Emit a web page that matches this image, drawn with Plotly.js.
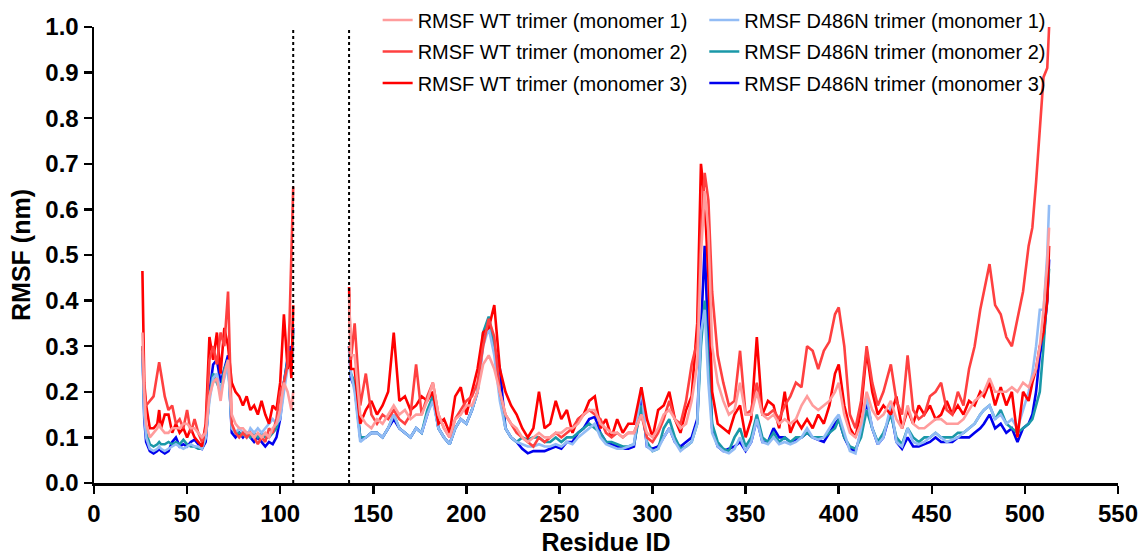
<!DOCTYPE html>
<html>
<head>
<meta charset="utf-8">
<script src="https://cdn.plot.ly/plotly-3.0.1.min.js"></script>
<style>html,body{margin:0;padding:0;background:#fff;}#chart{width:1143px;height:556px;}</style>
</head>
<body>
<div id="chart"></div>
<script>
// Residue positions, segment A (26-107) and segment B (137-513)
const resA = [26,27,28,30,32,34,35,36,38,40, 42,44,46,48,50,52,54,56,58,60,
  62,64,66,68,70,72,74,76,78,80, 82,84,86,88,90,92,94,96,98,100, 102,104,105,106,107];
const resB = [137,138,140,143,146,149,152,155,158,161,
  164,167,170,173,176,179,182,185,188,191,
  194,197,200,203,206,209,212,215,218,221,
  224,227,230,233,236,239,242,245,248,251,
  254,257,260,263,266,269,272,275,278,281,
  284,287,290,294,297,300,303,306,309,312,
  315,318,321,324,326,328,330,332,335,338,
  341,344,347,350,353,356,359,362,365,368,
  371,374,377,380,383,386,389,392,395,398,
  400,403,406,409,412,415,418,421,424,428,
  431,434,437,440,443,446,449,452,455,458,
  461,464,467,470,473,476,478,481,484,487,
  490,493,496,499,502,504,506,508,510,512,
  513];

// RMSF (nm) values
const wt1A = [0.33,0.20,0.13,0.10,0.11,0.12,0.13,0.12,0.11,0.11, 0.12,0.12,0.12,0.13,0.13,0.12,0.12,0.11,0.10,0.11,
  0.19,0.22,0.23,0.18,0.24,0.27,0.15,0.13,0.12,0.12, 0.11,0.11,0.10,0.11,0.10,0.11,0.10,0.12,0.13,0.16, 0.22,0.20,0.18,0.16,0.20];
const wt2A = [0.30,0.20,0.17,0.18,0.19,0.24,0.265,0.24,0.19,0.16, 0.17,0.13,0.14,0.12,0.16,0.11,0.14,0.11,0.09,0.12,
  0.27,0.30,0.26,0.33,0.30,0.42,0.13,0.11,0.10,0.11, 0.10,0.11,0.10,0.085,0.10,0.09,0.12,0.11,0.14,0.20, 0.22,0.26,0.35,0.50,0.65];
const wt3A = [0.465,0.22,0.17,0.12,0.12,0.13,0.16,0.12,0.15,0.15, 0.11,0.13,0.11,0.12,0.10,0.12,0.10,0.09,0.08,0.13,
  0.32,0.27,0.33,0.24,0.34,0.30,0.22,0.20,0.19,0.17, 0.19,0.16,0.17,0.15,0.18,0.15,0.13,0.17,0.16,0.22, 0.37,0.25,0.29,0.23,0.39];
const mu1A = [0.29,0.15,0.10,0.075,0.07,0.075,0.08,0.075,0.07,0.075, 0.08,0.085,0.08,0.075,0.08,0.085,0.08,0.08,0.075,0.10,
  0.18,0.23,0.24,0.20,0.23,0.26,0.12,0.11,0.12,0.11, 0.10,0.12,0.11,0.12,0.11,0.12,0.13,0.14,0.13,0.14, 0.20,0.25,0.28,0.25,0.30];
const mu2A = [0.30,0.16,0.11,0.085,0.08,0.085,0.09,0.085,0.085,0.09, 0.085,0.09,0.085,0.095,0.085,0.08,0.08,0.075,0.075,0.10,
  0.19,0.24,0.22,0.20,0.25,0.27,0.12,0.11,0.11,0.105, 0.11,0.10,0.11,0.10,0.11,0.10,0.10,0.11,0.12,0.15, 0.22,0.27,0.29,0.26,0.33];
const mu3A = [0.30,0.14,0.09,0.07,0.065,0.07,0.075,0.07,0.065,0.07, 0.09,0.10,0.08,0.085,0.08,0.09,0.095,0.085,0.075,0.09,
  0.20,0.26,0.27,0.22,0.25,0.28,0.11,0.10,0.11,0.10, 0.11,0.10,0.09,0.10,0.09,0.08,0.09,0.085,0.10,0.14, 0.22,0.28,0.30,0.27,0.34];

const wt1B = [0.41,0.28,0.28,0.15,0.13,0.12,0.14,0.13,0.15,0.17,
  0.15,0.16,0.14,0.15,0.15,0.18,0.22,0.15,0.12,0.10,
  0.14,0.15,0.17,0.17,0.20,0.26,0.28,0.25,0.20,0.15,
  0.13,0.12,0.10,0.09,0.10,0.11,0.10,0.10,0.11,0.11,
  0.12,0.12,0.13,0.15,0.16,0.16,0.13,0.12,0.11,0.11,
  0.10,0.11,0.11,0.15,0.11,0.10,0.12,0.15,0.16,0.14,
  0.12,0.13,0.18,0.26,0.50,0.64,0.55,0.30,0.22,0.18,
  0.15,0.16,0.22,0.15,0.15,0.20,0.15,0.14,0.15,0.13,
  0.14,0.13,0.14,0.17,0.19,0.17,0.16,0.17,0.18,0.20,
  0.22,0.15,0.11,0.10,0.13,0.20,0.16,0.14,0.15,0.18,
  0.14,0.12,0.17,0.13,0.12,0.12,0.13,0.14,0.14,0.13,
  0.13,0.13,0.14,0.16,0.18,0.19,0.20,0.23,0.20,0.20,
  0.20,0.21,0.20,0.22,0.21,0.23,0.25,0.30,0.38,0.48,
  0.56];
const wt2B = [0.30,0.27,0.35,0.17,0.24,0.15,0.13,0.15,0.14,0.16,
  0.14,0.13,0.15,0.26,0.15,0.19,0.22,0.15,0.12,0.10,
  0.14,0.16,0.18,0.19,0.22,0.30,0.36,0.32,0.20,0.15,
  0.13,0.11,0.10,0.09,0.08,0.10,0.09,0.10,0.11,0.10,
  0.11,0.12,0.14,0.15,0.16,0.15,0.14,0.11,0.10,0.11,
  0.10,0.11,0.11,0.15,0.10,0.09,0.11,0.14,0.18,0.14,
  0.13,0.18,0.26,0.31,0.55,0.68,0.62,0.42,0.28,0.22,
  0.17,0.18,0.29,0.15,0.16,0.22,0.15,0.15,0.16,0.14,
  0.17,0.19,0.22,0.21,0.30,0.29,0.25,0.29,0.31,0.37,
  0.385,0.30,0.15,0.12,0.18,0.30,0.22,0.17,0.20,0.26,
  0.18,0.15,0.28,0.16,0.14,0.15,0.19,0.20,0.22,0.16,
  0.15,0.20,0.17,0.25,0.30,0.38,0.42,0.48,0.39,0.37,
  0.32,0.30,0.36,0.42,0.52,0.56,0.66,0.77,0.89,0.91,
  1.0];
const wt3B = [0.43,0.25,0.25,0.13,0.16,0.18,0.15,0.17,0.20,0.33,
  0.18,0.19,0.16,0.17,0.19,0.18,0.20,0.13,0.14,0.11,
  0.19,0.21,0.15,0.20,0.25,0.33,0.34,0.39,0.25,0.20,
  0.17,0.15,0.12,0.10,0.12,0.20,0.12,0.13,0.18,0.14,
  0.16,0.11,0.14,0.15,0.18,0.19,0.12,0.14,0.10,0.14,
  0.11,0.13,0.13,0.21,0.14,0.10,0.16,0.17,0.20,0.14,
  0.11,0.16,0.19,0.35,0.70,0.62,0.45,0.20,0.13,0.12,
  0.11,0.15,0.17,0.10,0.14,0.32,0.15,0.18,0.17,0.12,
  0.20,0.11,0.14,0.12,0.14,0.12,0.15,0.13,0.17,0.24,
  0.26,0.17,0.12,0.10,0.16,0.29,0.20,0.15,0.17,0.15,
  0.19,0.12,0.16,0.13,0.17,0.15,0.17,0.14,0.15,0.18,
  0.15,0.17,0.15,0.18,0.17,0.20,0.19,0.22,0.17,0.21,
  0.17,0.20,0.10,0.20,0.18,0.22,0.25,0.30,0.33,0.40,
  0.52];
const mu1B = [0.29,0.24,0.20,0.09,0.10,0.11,0.11,0.10,0.12,0.15,
  0.12,0.11,0.10,0.12,0.11,0.15,0.18,0.12,0.10,0.085,
  0.12,0.14,0.13,0.16,0.20,0.30,0.34,0.28,0.18,0.12,
  0.10,0.09,0.085,0.08,0.08,0.085,0.08,0.08,0.085,0.08,
  0.09,0.085,0.10,0.11,0.12,0.13,0.10,0.085,0.08,0.075,
  0.075,0.08,0.085,0.21,0.08,0.07,0.075,0.10,0.12,0.09,
  0.07,0.08,0.09,0.13,0.33,0.38,0.22,0.11,0.08,0.07,
  0.065,0.075,0.10,0.07,0.09,0.14,0.09,0.085,0.10,0.085,
  0.09,0.085,0.09,0.10,0.12,0.10,0.095,0.10,0.12,0.14,
  0.15,0.11,0.07,0.065,0.12,0.19,0.12,0.085,0.10,0.17,
  0.09,0.08,0.12,0.09,0.085,0.09,0.10,0.11,0.10,0.09,
  0.095,0.10,0.11,0.12,0.13,0.15,0.16,0.17,0.14,0.15,
  0.13,0.14,0.12,0.16,0.20,0.24,0.30,0.38,0.38,0.50,
  0.61];
const mu2B = [0.30,0.24,0.22,0.10,0.10,0.11,0.11,0.10,0.12,0.15,
  0.12,0.11,0.10,0.12,0.11,0.16,0.19,0.12,0.10,0.085,
  0.12,0.14,0.13,0.16,0.20,0.33,0.365,0.30,0.20,0.12,
  0.10,0.09,0.10,0.095,0.10,0.10,0.09,0.09,0.10,0.09,
  0.10,0.10,0.11,0.12,0.13,0.12,0.11,0.09,0.09,0.085,
  0.08,0.08,0.085,0.17,0.09,0.07,0.075,0.12,0.14,0.10,
  0.075,0.08,0.09,0.13,0.30,0.40,0.25,0.13,0.09,0.075,
  0.07,0.10,0.12,0.08,0.10,0.15,0.10,0.09,0.11,0.09,
  0.10,0.09,0.10,0.10,0.11,0.10,0.10,0.10,0.11,0.12,
  0.14,0.10,0.08,0.075,0.10,0.16,0.12,0.09,0.11,0.15,
  0.10,0.085,0.12,0.10,0.09,0.10,0.10,0.11,0.10,0.10,
  0.10,0.11,0.11,0.12,0.13,0.15,0.16,0.17,0.14,0.16,
  0.13,0.12,0.11,0.12,0.13,0.14,0.17,0.20,0.30,0.40,
  0.47];
const mu3B = [0.30,0.23,0.21,0.10,0.10,0.11,0.11,0.10,0.12,0.14,
  0.12,0.11,0.10,0.12,0.11,0.15,0.19,0.12,0.10,0.085,
  0.12,0.14,0.13,0.16,0.20,0.31,0.35,0.30,0.25,0.12,
  0.10,0.09,0.075,0.065,0.07,0.07,0.07,0.075,0.08,0.075,
  0.09,0.09,0.11,0.12,0.14,0.145,0.11,0.09,0.085,0.08,
  0.075,0.075,0.08,0.19,0.08,0.075,0.08,0.10,0.12,0.09,
  0.08,0.09,0.10,0.14,0.35,0.52,0.30,0.12,0.08,0.07,
  0.075,0.08,0.09,0.07,0.09,0.14,0.09,0.09,0.12,0.10,
  0.10,0.09,0.095,0.10,0.11,0.10,0.095,0.09,0.11,0.13,
  0.14,0.10,0.075,0.07,0.11,0.18,0.12,0.085,0.10,0.16,
  0.09,0.075,0.10,0.08,0.08,0.085,0.09,0.10,0.09,0.09,
  0.09,0.10,0.10,0.10,0.11,0.12,0.13,0.15,0.12,0.13,
  0.11,0.12,0.09,0.12,0.13,0.15,0.20,0.28,0.32,0.40,
  0.49];

const seriesNames = ['RMSF WT trimer (monomer 1)','RMSF WT trimer (monomer 2)','RMSF WT trimer (monomer 3)',
  'RMSF D486N trimer (monomer 1)','RMSF D486N trimer (monomer 2)','RMSF D486N trimer (monomer 3)'];
const gapMarkers = [107, 137];

const colors = ['#ff9c9c','#ff4040','#ff0000','#92bcf5','#1a98a8','#0000ee'];
const segA = [wt1A, wt2A, wt3A, mu1A, mu2A, mu3A];
const segB = [wt1B, wt2B, wt3B, mu1B, mu2B, mu3B];
const xs = resA.concat([120], resB);

function mk(i) {
  return {
    type: 'scatter', mode: 'lines',
    x: xs, y: segA[i].concat([null], segB[i]),
    name: seriesNames[i],
    line: {color: colors[i], width: 2.6},
    connectgaps: false,
    legend: i < 3 ? 'legend' : 'legend2',
    legendgroup: 'g' + i,
    legendrank: i + 1,
    hoverinfo: 'skip'
  };
}
const order = [5, 4, 3, 2, 1, 0];
const data = order.map(mk);

const tickFont = {family: 'Liberation Sans, Arial, sans-serif', size: 24, color: '#000', weight: 'bold'};
const titleFont = {family: 'Liberation Sans, Arial, sans-serif', size: 25, color: '#000', weight: 'bold'};
const legFont = {family: 'Liberation Sans, Arial, sans-serif', size: 20, color: '#000'};

const layout = {
  width: 1143, height: 556,
  margin: {l: 94, r: 25, t: 27, b: 73, autoexpand: false},
  paper_bgcolor: '#fff', plot_bgcolor: '#fff',
  showlegend: true,
  xaxis: {
    range: [0, 550], tick0: 0, dtick: 50, showgrid: false, zeroline: false,
    showline: true, linecolor: '#000', linewidth: 2.5,
    ticks: 'outside', ticklen: 8, tickwidth: 2.5, tickcolor: '#000',
    tickfont: tickFont, automargin: false,
    title: {text: 'Residue ID', font: titleFont, standoff: 10}
  },
  yaxis: {
    range: [0, 1.0], tick0: 0, dtick: 0.1, tickformat: '.1f', showgrid: false, zeroline: false,
    showline: true, linecolor: '#000', linewidth: 2.5,
    ticks: 'outside', ticklen: 8, tickwidth: 2.5, tickcolor: '#000',
    tickfont: tickFont, automargin: false,
    title: {text: 'RMSF (nm)', font: titleFont, standoff: 8}
  },
  shapes: gapMarkers.map(v => ({
    type: 'line', xref: 'x', yref: 'paper', x0: v, x1: v, y0: 0, y1: 1,
    line: {color: '#000', width: 2, dash: 'dot'}
  })),
  legend: {x: 0.277, xanchor: 'left', y: 1.058, yanchor: 'top', font: legFont,
    bgcolor: 'rgba(0,0,0,0)', tracegroupgap: 2.5, orientation: 'v', traceorder: 'grouped'},
  legend2: {x: 0.596, xanchor: 'left', y: 1.058, yanchor: 'top', font: legFont,
    bgcolor: 'rgba(0,0,0,0)', tracegroupgap: 2.5, orientation: 'v', traceorder: 'grouped'}
};

Plotly.newPlot('chart', data, layout, {staticPlot: true, displayModeBar: false});
</script>
</body>
</html>
